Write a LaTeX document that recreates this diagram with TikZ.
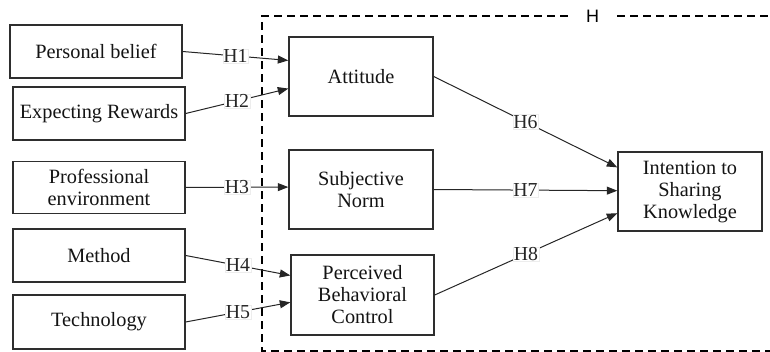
\documentclass[tikz,border=0pt]{standalone}
\usepackage{fontspec}
\setmainfont{Liberation Serif}
\newfontfamily\bodyfont{Liberation Serif}
\newfontfamily\tagfont{Liberation Sans}
\usetikzlibrary{arrows.meta,calc}

\tikzset{
  box/.style={draw=black!82, line width=1.4pt, fill=white, align=center,
    text=black!92, font=\bodyfont\fontsize{20.3}{22}\selectfont, inner sep=2pt},
  link/.style={draw=black!85, line width=1pt,
    -{Triangle[length=10.5pt,width=8pt]}},
  hyp/.style={fill=white, draw=black!7, line width=0.4pt, inner sep=0.6pt,
    text=black!85, font=\bodyfont\fontsize{19.8}{19.8}\selectfont},
  frame/.style={draw=black, line width=1.4pt, dash pattern=on 8pt off 5pt}
}

\begin{document}
\begin{tikzpicture}[x=1pt,y=-1pt]
\useasboundingbox (0,0) rectangle (770,352);

% dashed frame around the mediating constructs
\node[font=\tagfont\fontsize{18}{18}\selectfont, minimum width=49pt,
      inner sep=0pt] (htag) at (592.5,16) {H};
\draw[frame] (htag.west) -- (262,16) -- (262,351) -- (770,351);
\draw[frame] (htag.east) -- (770,16);

% antecedents
\node[box, minimum width=172pt, minimum height=53pt] (pb)   at (96,51.5)  {Personal belief};
\node[box, minimum width=172pt, minimum height=53pt] (er)   at (99,113.5) {Expecting Rewards};
\node[box, minimum width=172pt, minimum height=52pt] (pe)   at (99,187.5) {Professional\\environment};
\node[box, minimum width=172pt, minimum height=53pt] (meth) at (99,255.5) {Method};
\node[box, minimum width=172pt, minimum height=54pt] (tech) at (99,322)   {Technology};

% mediators
\node[box, minimum width=144pt, minimum height=79pt] (att) at (361,76.5)  {Attitude};
\node[box, minimum width=144pt, minimum height=79pt] (sn)  at (361,189.5) {Subjective\\Norm};
\node[box, minimum width=143pt, minimum height=80pt] (pbc) at (362.5,295) {Perceived\\Behavioral\\Control};

% outcome
\node[box, minimum width=144pt, minimum height=79pt] (isk) at (690,191.5) {Intention to\\Sharing\\Knowledge};

% hypothesised paths
\draw[link] (pb.east)   -- node[hyp]{H1} ($(att.north west)!0.30!(att.south west)$);
\draw[link] (er.east)   -- node[hyp]{H2} ($(att.north west)!0.65!(att.south west)$);
\draw[link] (pe.east)   -- node[hyp]{H3} ($(sn.north west)!0.47!(sn.south west)$);
\draw[link] (meth.east) -- node[hyp]{H4} ($(pbc.north west)!0.26!(pbc.south west)$);
\draw[link] (tech.east) -- node[hyp]{H5} ($(pbc.north west)!0.59!(pbc.south west)$);

\draw[link] (att.east) -- node[hyp]{H6} ($(isk.north west)!0.20!(isk.south west)$);
\draw[link] (sn.east)  -- node[hyp]{H7} ($(isk.north west)!0.49!(isk.south west)$);
\draw[link] (pbc.east) -- node[hyp]{H8} ($(isk.north west)!0.77!(isk.south west)$);
\end{tikzpicture}
\end{document}
